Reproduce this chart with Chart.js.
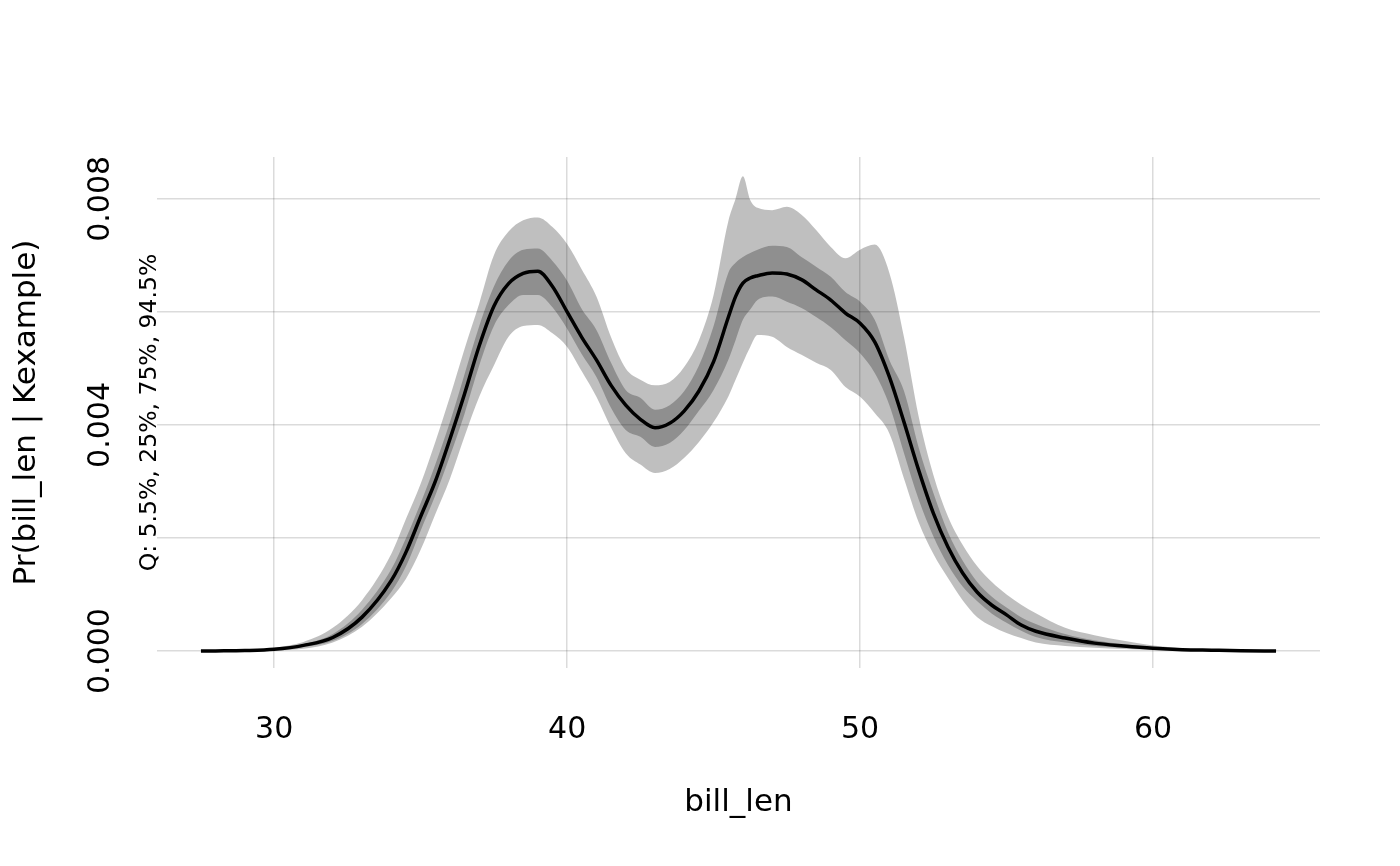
<!DOCTYPE html>
<html>
<head>
<meta charset="utf-8">
<title>Pr(bill_len | Kexample)</title>
<script src="https://cdn.jsdelivr.net/npm/chart.js@4.4.1/dist/chart.umd.min.js"></script>
<style>
  html, body { margin: 0; padding: 0; background: #fff; }
  #wrap { width: 1400px; height: 866px; }
</style>
</head>
<body>
<div id="wrap"><canvas id="density-chart"></canvas></div>
<script>
// bill_len grid the density was read on
const billLen = [27.5, 28, 29, 30, 31, 32, 33, 34, 34.5, 35, 35.5, 36, 36.5, 37, 37.5, 38, 38.5, 39, 39.5, 40,
    40.5, 41, 41.5, 42, 42.5, 43, 43.5, 44, 44.5, 45, 45.5, 45.75, 46, 46.25, 46.5, 47, 47.5, 48, 48.5, 49,
    49.5, 50, 50.5, 51, 51.5, 52, 52.5, 53, 53.5, 54, 54.5, 55, 55.5, 56, 57, 58, 59, 60, 61, 62, 63, 64.2];

// Quantiles of Pr(bill_len | Kexample)
const q055 = [0, 0.000001, 0.000004, 0.000012, 0.00004, 0.00015, 0.00043, 0.00094, 0.00128, 0.00179, 0.00242, 0.00305,
    0.0038, 0.0045, 0.00505, 0.00556, 0.00575, 0.00577, 0.00562, 0.00538, 0.00495, 0.0045, 0.00395, 0.0035, 0.0033,
    0.00315, 0.00322, 0.00342, 0.0037, 0.00405, 0.0045, 0.0048, 0.0051, 0.00538, 0.00559, 0.00556, 0.00538, 0.00524,
    0.0051, 0.00497, 0.00467, 0.0045, 0.00421, 0.00385, 0.00305, 0.00228, 0.00172, 0.00129, 0.0009, 0.0006, 0.00044,
    0.00032, 0.00023, 0.00015, 0.00009, 0.00006, 0.000035, 0.00002, 0.00001, 0.000005, 0.000002, 0];

const q25 = [0, 0.000002, 0.000006, 0.00002, 0.00007, 0.00018, 0.00048, 0.00105, 0.0015, 0.00213, 0.00275, 0.00345,
    0.0042, 0.00505, 0.00575, 0.00612, 0.0063, 0.0063, 0.00608, 0.0057, 0.00525, 0.00485, 0.0043, 0.00391, 0.00379,
    0.00361, 0.00368, 0.00391, 0.00425, 0.00462, 0.00515, 0.0055, 0.00586, 0.00604, 0.00621, 0.00627, 0.00618, 0.00607,
    0.00591, 0.00573, 0.0055, 0.00527, 0.00492, 0.00435, 0.0035, 0.00268, 0.00203, 0.00152, 0.00114, 0.00088, 0.00066,
    0.0005, 0.00036, 0.00025, 0.00015, 0.00009, 0.00006, 0.00003, 0.000015, 0.00001, 0.000004, 0];

const median = [0, 0.000002, 0.000008, 0.00003, 0.0001, 0.00024, 0.0006, 0.00125, 0.00175, 0.00238, 0.003, 0.00375,
    0.00455, 0.0054, 0.0061, 0.0065, 0.00668, 0.00672, 0.00645, 0.006, 0.00555, 0.00515, 0.0047, 0.00435, 0.0041,
    0.00395, 0.00403, 0.00425, 0.0046, 0.00512, 0.0059, 0.00627, 0.00651, 0.0066, 0.00664, 0.00669, 0.00667, 0.00657,
    0.00639, 0.00621, 0.00598, 0.0058, 0.00547, 0.00485, 0.00405, 0.0032, 0.00244, 0.00184, 0.00138, 0.00104, 0.00081,
    0.00064, 0.00046, 0.00035, 0.00023, 0.00014, 0.00009, 0.00005, 0.000025, 0.000015, 0.000006, 0.000001];

const q75 = [0, 0.000003, 0.00001, 0.00004, 0.00012, 0.0003, 0.00073, 0.00145, 0.002, 0.00262, 0.0033, 0.00405,
    0.0049, 0.00575, 0.00645, 0.0069, 0.0071, 0.00712, 0.0069, 0.00655, 0.00605, 0.00568, 0.0051, 0.00462, 0.00448,
    0.00427, 0.00435, 0.0046, 0.00505, 0.00575, 0.00669, 0.00687, 0.00697, 0.00704, 0.0071, 0.00717, 0.00715, 0.00697,
    0.0068, 0.00662, 0.00635, 0.00618, 0.00586, 0.00515, 0.0046, 0.0036, 0.0028, 0.0021, 0.0016, 0.00122, 0.00096,
    0.00077, 0.0006, 0.00048, 0.0003, 0.00019, 0.00012, 0.00007, 0.000035, 0.00002, 0.000008, 0.000001];

const q945 = [0, 0.000004, 0.000014, 0.00006, 0.00016, 0.00041, 0.0009, 0.00172, 0.00234, 0.00296, 0.0037, 0.0045,
    0.00535, 0.00615, 0.007, 0.00742, 0.00762, 0.00767, 0.0075, 0.0072, 0.00675, 0.00627, 0.00555, 0.005, 0.0048,
    0.0047, 0.00476, 0.00503, 0.0055, 0.0063, 0.0076, 0.008, 0.0084, 0.00798, 0.00784, 0.0078, 0.00786, 0.00772,
    0.00745, 0.00715, 0.00695, 0.0071, 0.00719, 0.00669, 0.00555, 0.00415, 0.00312, 0.00238, 0.00188, 0.0015, 0.00122,
    0.001, 0.00082, 0.00067, 0.00041, 0.00028, 0.00018, 0.0001, 0.00005, 0.000025, 0.00001, 0.000001];

// Tick positions
const xTicks = [30, 40, 50, 60];
const yGrid = [0, 0.002, 0.004, 0.006, 0.008];
const yLabelTicks = [0, 0.004, 0.008];

const fontFamily = '"DejaVu Sans", Verdana, sans-serif';

function toPoints(values) {
    return billLen.map((x, i) => ({ x: x, y: values[i] }));
}

// Band edges: invisible lines, the upper one fills down to the next dataset
function edge(values, fill) {
    return {
        data: toPoints(values),
        borderWidth: 0,
        pointRadius: 0,
        cubicInterpolationMode: 'monotone',
        backgroundColor: 'rgba(0,0,0,0.25)',
        fill: fill
    };
}

// Rotated y tick labels and the quantile note
const sideLabels = {
    id: 'sideLabels',
    afterDraw(chart) {
        const ctx = chart.ctx;
        const yScale = chart.scales.y;
        const area = chart.chartArea;
        ctx.save();
        ctx.fillStyle = '#000';
        ctx.textAlign = 'center';
        ctx.textBaseline = 'middle';

        ctx.font = '30px ' + fontFamily;
        yLabelTicks.forEach(v => {
            ctx.save();
            ctx.translate(101, yScale.getPixelForValue(v));
            ctx.rotate(-Math.PI / 2);
            ctx.fillText(v.toFixed(3), 0, 0);
            ctx.restore();
        });

        ctx.font = '23.5px ' + fontFamily;
        ctx.translate(150, (area.top + area.bottom) / 2);
        ctx.rotate(-Math.PI / 2);
        ctx.fillText('Q: 5.5%, 25%, 75%, 94.5%', 0, 0);
        ctx.restore();
    }
};

let densityChart = new Chart(document.getElementById('density-chart'), {
    type: 'line',
    data: {
        datasets: [
            {
                data: toPoints(median),
                borderColor: '#000',
                borderWidth: 3.5,
                pointRadius: 0,
                cubicInterpolationMode: 'monotone',
                fill: false
            },
            edge(q945, '+1'),
            edge(q055, false),
            edge(q75, '+1'),
            edge(q25, false)
        ]
    },
    options: {
        responsive: true,
        maintainAspectRatio: false,
        animation: false,
        layout: {
            padding: { left: 0, right: 80, top: 157, bottom: 0 }
        },
        plugins: {
            legend: { display: false },
            tooltip: { enabled: false }
        },
        scales: {
            x: {
                type: 'linear',
                min: 26,
                max: 65.7,
                afterBuildTicks: axis => { axis.ticks = xTicks.map(v => ({ value: v })); },
                afterFit: axis => { axis.height = 198; },
                border: { display: false },
                grid: { color: 'rgba(0,0,0,0.14)', lineWidth: 1.5, drawTicks: false },
                ticks: {
                    color: '#000',
                    padding: 44,
                    maxRotation: 0,
                    font: { family: fontFamily, size: 30 }
                },
                title: {
                    display: true,
                    text: 'bill_len',
                    color: '#000',
                    padding: 44,
                    font: { family: fontFamily, size: 31 }
                }
            },
            y: {
                type: 'linear',
                min: -0.0003,
                max: 0.00874,
                afterBuildTicks: axis => { axis.ticks = yGrid.map(v => ({ value: v })); },
                afterFit: axis => { axis.width = 157; },
                border: { display: false },
                grid: { color: 'rgba(0,0,0,0.14)', lineWidth: 1.5, drawTicks: false },
                ticks: { display: false },
                title: {
                    display: true,
                    text: 'Pr(bill_len | Kexample)',
                    color: '#000',
                    padding: 8,
                    font: { family: fontFamily, size: 31 }
                }
            }
        }
    },
    plugins: [sideLabels]
});
</script>
</body>
</html>
